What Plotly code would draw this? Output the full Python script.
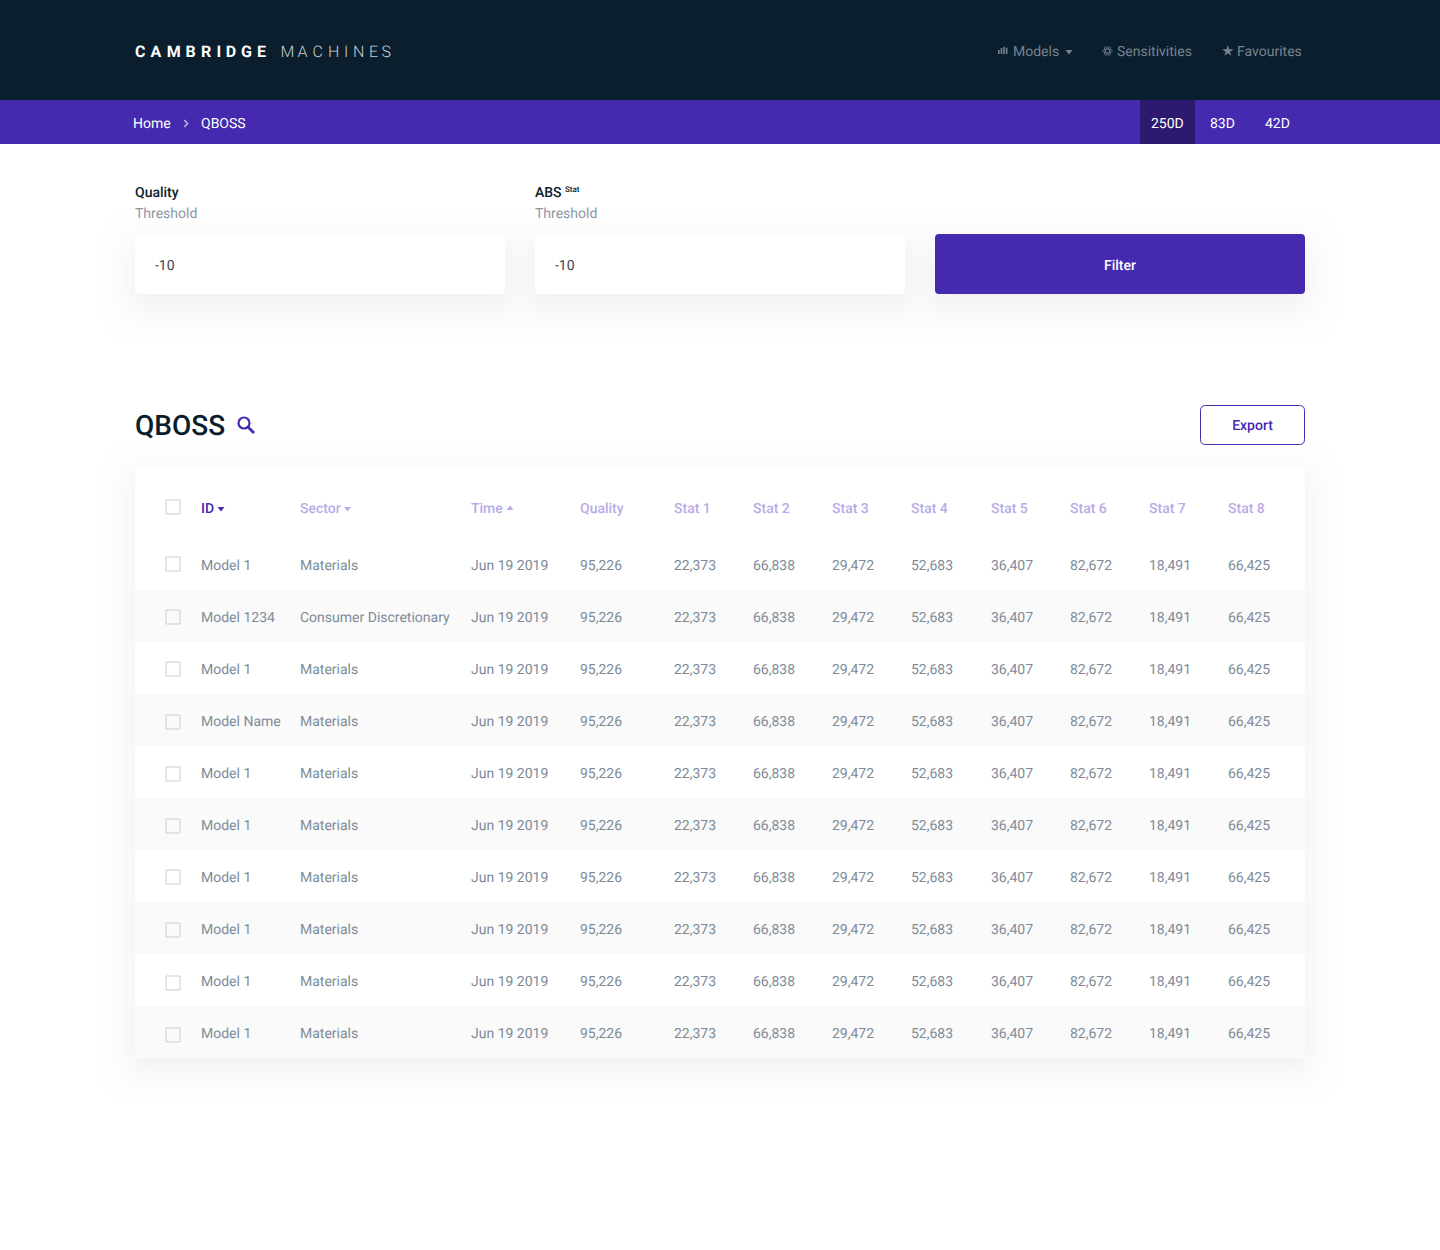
import math
from statistics import NormalDist

import plotly.graph_objects as go

# table values
ids = ['Model 1', 'Model 1234', 'Model 1', 'Model Name', 'Model 1', 'Model 1', 'Model 1', 'Model 1', 'Model 1', 'Model 1']
sectors = ['Materials', 'Consumer Discretionary'] + ['Materials'] * 8
times = ['Jun 19 2019'] * 10
quality = [95226] * 10
stat1 = [22373] * 10
stat2 = [66838] * 10
stat3 = [29472] * 10
stat4 = [52683] * 10
stat5 = [36407] * 10
stat6 = [82672] * 10
stat7 = [18491] * 10
stat8 = [66425] * 10
headers = ['ID', 'Sector', 'Time', 'Quality', 'Stat 1', 'Stat 2', 'Stat 3', 'Stat 4', 'Stat 5', 'Stat 6', 'Stat 7', 'Stat 8']
tabs = ['250D', '83D', '42D']
nav_items = ['Models', 'Sensitivities', 'Favourites']

# layout, in page pixels
col_x = [201, 300, 471, 580, 674, 753, 832, 911, 991, 1070, 1149, 1228]
row_y = [565 + 52 * i for i in range(10)]
check_y = [564, 617, 669, 722, 774, 826, 877, 930, 983, 1035]
TEXT_DY = 1  # svg text sits a pixel high against the target

DARK = '#0a1e2d'
PURPLE = '#452ab0'
NAV = '#77848f'
HEAD = '#b9abe8'
FONT = 'Roboto'


def round_rect(x0, y0, x1, y1, r):
    return (f'M{x0+r},{y0} L{x1-r},{y0} Q{x1},{y0} {x1},{y0+r} L{x1},{y1-r} Q{x1},{y1} {x1-r},{y1} '
            f'L{x0+r},{y1} Q{x0},{y1} {x0},{y1-r} L{x0},{y0+r} Q{x0},{y0} {x0+r},{y0} Z')


def box(x0, y0, x1, y1, fill, r=0, line=None, width=0):
    return dict(type='path', path=round_rect(x0, y0, x1, y1, r), fillcolor=fill,
                line=dict(color=line or 'rgba(0,0,0,0)', width=width), layer='below')


def shadow(x0, y0, x1, y1, dy, sigma, alpha, steps=18):
    # stacked see-through boxes stand in for a css box-shadow, spaced to give a soft falloff
    out = []
    for i in range(steps):
        s = sigma * NormalDist().inv_cdf(1 - (i + 0.5) / steps)
        r = min(max(sigma + s, 3), 40)
        out.append(dict(type='path', path=round_rect(x0 - s, y0 + dy - s, x1 + s, y1 + dy + s, r),
                        fillcolor=f'rgba(20,30,40,{alpha})', line=dict(width=0), layer='below'))
    return out


def ellipse_path(cx, cy, a, b, angle):
    # outline of one ring of the atom icon
    t = math.radians(angle)
    pts = []
    for k in range(24):
        u = 2 * math.pi * k / 24
        ex, ey = a * math.cos(u), b * math.sin(u)
        pts.append(f'{cx + ex * math.cos(t) - ey * math.sin(t):.2f},{cy + ex * math.sin(t) + ey * math.cos(t):.2f}')
    return 'M' + ' L'.join(pts) + ' Z'


fig = go.Figure()


def add_text(xs, ys, texts, color, size=14, weight=400, pos='middle right'):
    fig.add_trace(go.Scatter(x=xs, y=[y + TEXT_DY for y in ys], text=texts, mode='text', textposition=pos,
                             cliponaxis=False, textfont=dict(family=FONT, size=size, color=color, weight=weight)))


def add_marker(xs, ys, symbol, size, color, line=0):
    fig.add_trace(go.Scatter(x=xs, y=ys, mode='markers', cliponaxis=False,
                             marker=dict(symbol=symbol, size=size, color=color,
                                         line=dict(width=line, color=color))))


shapes = [box(0, 0, 1440, 100, DARK), box(0, 100, 1440, 144, PURPLE), box(1140, 100, 1195, 144, '#2d1a70')]
shapes += shadow(135, 234, 505, 294, 12, 19, 0.005)
shapes += shadow(535, 234, 905, 294, 12, 19, 0.005)
shapes += shadow(935, 234, 1305, 294, 12, 19, 0.005)
shapes += shadow(135, 467, 1305, 1058, 10, 19, 0.005)
shapes += shadow(1200, 405, 1305, 445, 6, 14, 0.001)
shapes += [box(135, 234, 505, 294, '#ffffff', 4), box(535, 234, 905, 294, '#ffffff', 4),
           box(935, 234, 1305, 294, PURPLE, 4), box(1200.5, 405.5, 1304.5, 444.5, '#ffffff', 5, PURPLE, 1),
           box(135, 467, 1305, 1058, '#ffffff', 4)]
for i in range(1, 10, 2):
    shapes.append(box(135, row_y[i] - 27, 1305, row_y[i] + 25, '#fafafa'))

# nav bar icons and breadcrumb chevron
for bx, by in zip([998, 1000.6, 1003.2, 1005.8], [50, 48, 46.7, 47.7]):
    shapes.append(dict(type='rect', x0=bx, x1=bx + 1.7, y0=by, y1=54, fillcolor='#6f7d8a', line=dict(width=0)))
for ang in (0, 60, 120):
    shapes.append(dict(type='path', path=ellipse_path(1107.5, 51, 4.7, 2, ang), line=dict(color='#6f7d8a', width=0.9)))
shapes.append(dict(type='path', path='M184.3,120 L187.5,123.5 L184.3,127', line=dict(color='#b5a8e6', width=1.8)))
# search icon
shapes.append(dict(type='circle', x0=238.5, y0=417.5, x1=249.5, y1=428.5, line=dict(color=PURPLE, width=2.2)))
shapes.append(dict(type='line', x0=247.5, y0=426.5, x1=254, y1=433, line=dict(color=PURPLE, width=2.8)))

# brand, spaced out letter by letter
add_text([135, 150.5, 166.7, 185.5, 201, 216.5, 225.7, 241, 257], [52] * 9, list('CAMBRIDGE'), '#ffffff', 16, 700)
add_text([280.5, 297.5, 312.5, 328, 344, 353, 369, 381.5], [52] * 8, list('MACHINES'), '#c9ced3', 16, 300)

add_text([1013, 1117, 1237], [51] * 3, nav_items, NAV)
add_marker([1227.8], [51], 'star', 8.5, NAV)
add_marker([1069], [51.5], 'triangle-down', 6, NAV)

add_text([133, 201], [123, 123], ['Home', 'QBOSS'], '#ffffff')
add_text([1151, 1210, 1265], [123] * 3, tabs, '#ffffff')

add_text([135, 535], [192, 192], ['Quality', 'ABS'], DARK, 14, 500)
add_text([565], [189], ['Stat'], DARK, 8, 500)
add_text([135, 535], [213, 213], ['Threshold', 'Threshold'], '#8c97a3')
add_text([155, 555], [265, 265], ['-10', '-10'], '#3c4650')
add_text([1120], [265], ['Filter'], '#ffffff', 14, 500, 'middle center')
add_text([135], [427], ['QBOSS'], DARK, 28, 500)
add_text([1252.5], [425], ['Export'], PURPLE, 14, 500, 'middle center')

add_text(col_x[:1], [508], headers[:1], PURPLE, 14, 500)
add_text(col_x[1:], [508] * 11, headers[1:], HEAD, 14, 500)
add_marker([221], [508.5], 'triangle-down', 6, PURPLE)
add_marker([347.5], [508.5], 'triangle-down', 6, HEAD)
add_marker([510], [508.5], 'triangle-up', 6, HEAD)

add_marker([173] * 11, [507] + check_y, 'square-open', 14, '#c8cdd6', 1)

columns = [ids, sectors, times] + [[f'{v:,}' for v in s] for s in
                                   (quality, stat1, stat2, stat3, stat4, stat5, stat6, stat7, stat8)]
for x, col in zip(col_x, columns):
    add_text([x] * 10, row_y, col, '#7d8b99')

fig.update_layout(
    width=1440, height=1250, margin=dict(l=0, r=0, t=0, b=0),
    paper_bgcolor='#ffffff', plot_bgcolor='#ffffff', showlegend=False, hovermode=False,
    shapes=shapes,
    xaxis=dict(range=[0, 1440], visible=False, fixedrange=True),
    yaxis=dict(range=[1250, 0], visible=False, fixedrange=True),
)

fig.write_html('out.html', config={'displayModeBar': False},
               post_script="document.body.style.margin='0';document.documentElement.style.overflow='hidden';"
                           "document.head.insertAdjacentHTML('beforeend','<style>text{text-rendering:geometricPrecision}</style>');")
